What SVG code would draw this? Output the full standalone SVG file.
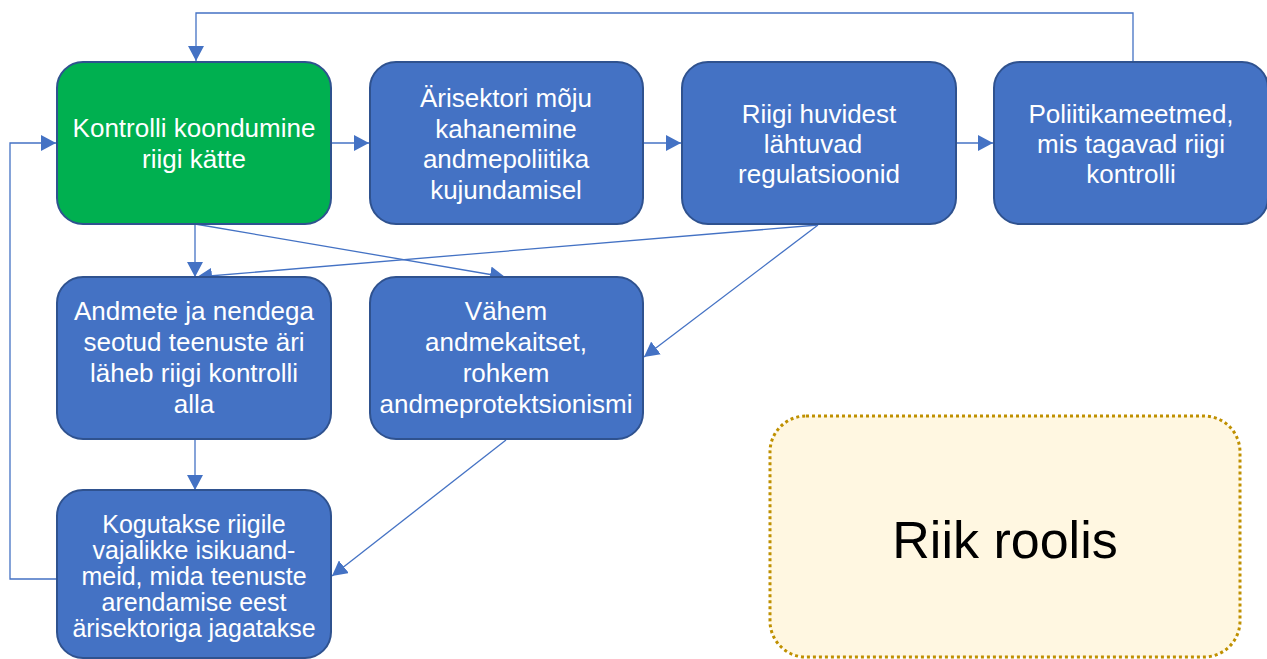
<svg xmlns="http://www.w3.org/2000/svg" width="1267" height="659" viewBox="0 0 1267 659">
<style>
.node{fill:#4472C4;stroke:#2F528F;stroke-width:2}
.green{fill:#00B050}
.t{font-family:"Liberation Sans",Arial,sans-serif;font-size:26px;fill:#FFFFFF;text-anchor:middle}
.t7{font-size:25px}
.c{fill:none;stroke:#4472C4;stroke-width:1.3}
</style>
<defs>
<marker id="ah" markerUnits="userSpaceOnUse" markerWidth="16" markerHeight="16" viewBox="0 0 16 16" refX="15" refY="8" orient="auto">
<path d="M0,0 L15,8 L0,16 Z" fill="#4472C4"/>
</marker>
</defs>
<rect width="1267" height="659" fill="#FFFFFF"/>
<g id="connectors">
<polyline class="c" points="1133,62 1133,13 196,13 196,61" marker-end="url(#ah)"/>
<polyline class="c" points="57,579 10,579 10,143 56,143" marker-end="url(#ah)"/>
<line class="c" x1="331" y1="143" x2="369" y2="143" marker-end="url(#ah)"/>
<line class="c" x1="643" y1="143" x2="681" y2="143" marker-end="url(#ah)"/>
<line class="c" x1="956" y1="143" x2="993" y2="143" marker-end="url(#ah)"/>
<line class="c" x1="195" y1="224" x2="195" y2="277" marker-end="url(#ah)"/>
<line class="c" x1="195" y1="224" x2="505" y2="277" marker-end="url(#ah)"/>
<line class="c" x1="818" y1="225" x2="197" y2="277" marker-end="url(#ah)"/>
<line class="c" x1="818" y1="225" x2="644" y2="357" marker-end="url(#ah)"/>
<line class="c" x1="195" y1="439" x2="195" y2="490" marker-end="url(#ah)"/>
<line class="c" x1="506" y1="440" x2="332" y2="576" marker-end="url(#ah)"/>
</g>
<g id="n1">
<rect class="node green" x="57" y="62" width="274" height="162" rx="26"/>
<text class="t" x="194" y="137">Kontrolli koondumine</text>
<text class="t" x="194" y="168">riigi kätte</text>
</g>
<g id="n2">
<rect class="node" x="370" y="62" width="273" height="162" rx="26"/>
<text class="t" x="506" y="107">Ärisektori mõju</text>
<text class="t" x="506" y="138">kahanemine</text>
<text class="t" x="506" y="168">andmepoliitika</text>
<text class="t" x="506" y="199">kujundamisel</text>
</g>
<g id="n3">
<rect class="node" x="682" y="62" width="274" height="162" rx="26"/>
<text class="t" x="819" y="123">Riigi huvidest</text>
<text class="t" x="813" y="153">lähtuvad</text>
<text class="t" x="819" y="183">regulatsioonid</text>
</g>
<g id="n4">
<rect class="node" x="994" y="62" width="274" height="162" rx="26"/>
<text class="t" x="1131" y="123">Poliitikameetmed,</text>
<text class="t" x="1131" y="153">mis tagavad riigi</text>
<text class="t" x="1131" y="183">kontrolli</text>
</g>
<g id="n5">
<rect class="node" x="57" y="277" width="274" height="162" rx="26"/>
<text class="t" x="194" y="320">Andmete ja nendega</text>
<text class="t" x="194" y="351">seotud teenuste äri</text>
<text class="t" x="194" y="382">läheb riigi kontrolli</text>
<text class="t" x="194" y="413">alla</text>
</g>
<g id="n6">
<rect class="node" x="370" y="277" width="273" height="162" rx="26"/>
<text class="t" x="506" y="320">Vähem</text>
<text class="t" x="506" y="351">andmekaitset,</text>
<text class="t" x="506" y="382">rohkem</text>
<text class="t" x="506" y="413">andmeprotektsionismi</text>
</g>
<g id="n7">
<rect class="node" x="57" y="490" width="274" height="168" rx="26"/>
<text class="t t7" x="194" y="533">Kogutakse riigile</text>
<text class="t t7" x="194" y="559">vajalikke isikuand-</text>
<text class="t t7" x="194" y="585">meid, mida teenuste</text>
<text class="t t7" x="194" y="611">arendamise eest</text>
<text class="t t7" x="194" y="637">ärisektoriga jagatakse</text>
</g>
<g id="label">
<rect x="770" y="416" width="470" height="241" rx="36" fill="#FFF7E1" stroke="#BF9000" stroke-width="3" stroke-dasharray="3,3"/>
<text x="1005" y="558" font-family="&quot;Liberation Sans&quot;,Arial,sans-serif" font-size="52" fill="#000000" text-anchor="middle">Riik roolis</text>
</g>
</svg>
